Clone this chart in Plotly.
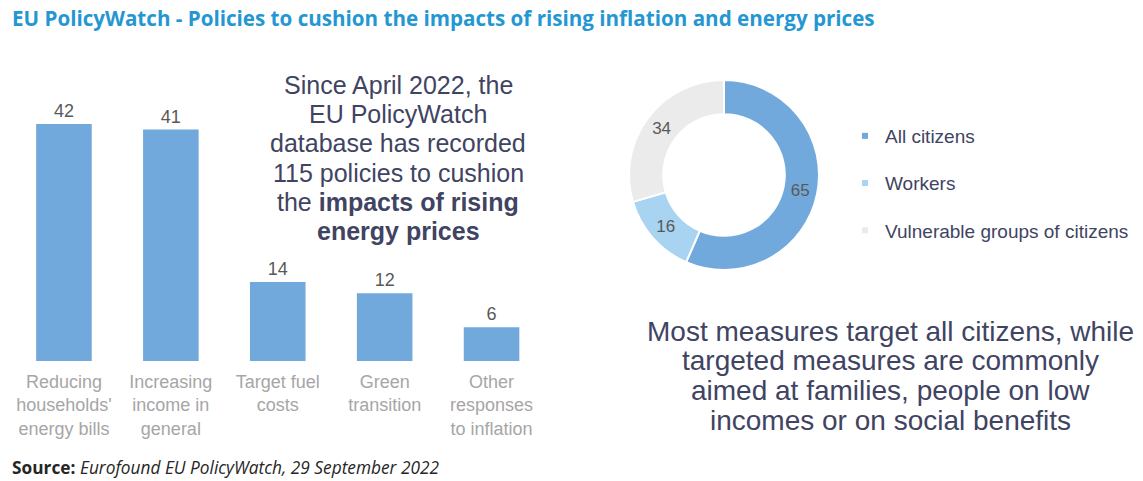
import plotly.graph_objects as go

# ---- data ----
bar_categories = ["Reducing<br>households'<br>energy bills", "Increasing<br>income in<br>general",
                  "Target fuel<br>costs", "Green<br>transition", "Other<br>responses<br>to inflation"]
bar_values = [42, 41, 14, 12, 6]

pie_labels = ["All citizens", "Workers", "Vulnerable groups of citizens"]
pie_values = [65, 16, 34]

title_text = "EU PolicyWatch - Policies to cushion the impacts of rising inflation and energy prices"
source_text = "<b>Source:</b> <i>Eurofound EU PolicyWatch, 29 September 2022</i>"
middle_lines = ["Since April 2022, the", "EU PolicyWatch", "database has recorded",
                "115 policies to cushion", "the <b>impacts of rising</b>", "<b>energy prices</b>"]
right_lines = ["Most measures target all citizens, while", "targeted measures are commonly",
               "aimed at families, people on low", "incomes or on social benefits"]

# ---- style ----
W, H = 1143, 481
BLUE = "#72a9dc"
LIGHTBLUE = "#a8d3f1"
GREY = "#ebebeb"
DARK = "#404462"
FONT = "Liberation Sans, Arial, sans-serif"

def px(x):
    return x / W

def py(y):
    return 1 - y / H

fig = go.Figure()

fig.add_trace(go.Bar(
    x=list(range(len(bar_values))), y=bar_values,
    marker=dict(color=BLUE, line=dict(width=0)),
    width=0.52,
    text=[str(v) for v in bar_values], textposition="outside",
    textfont=dict(family=FONT, size=18, color="#595959"),
    cliponaxis=False, showlegend=False, hoverinfo="skip",
))

fig.add_trace(go.Pie(
    labels=pie_labels, values=pie_values, sort=False, direction="clockwise", rotation=0,
    hole=0.64,
    marker=dict(colors=[BLUE, LIGHTBLUE, GREY], line=dict(color="white", width=2)),
    textinfo="value", textposition="inside", insidetextorientation="horizontal",
    textfont=dict(family=FONT, size=17, color="#595959"),
    domain=dict(x=[px(629), px(819)], y=[py(270), py(80)]),
    showlegend=False,
))

# legend proxies
for lab, col in zip(pie_labels, [BLUE, LIGHTBLUE, GREY]):
    fig.add_trace(go.Scatter(
        x=[None], y=[None], mode="markers", name=lab, legendgroup=lab,
        marker=dict(symbol="square", size=6, color=col),
    ))

fig.update_layout(
    width=W, height=H, autosize=False,
    margin=dict(l=0, r=0, t=0, b=0),
    paper_bgcolor="white", plot_bgcolor="white",
    xaxis=dict(domain=[px(10.5), px(545)], range=[-0.5, 4.5],
               tickmode="array", tickvals=list(range(len(bar_categories))), ticktext=bar_categories,
               tickfont=dict(family=FONT, size=18, color="#a6a6a6"),
               ticklabelstandoff=8,
               showgrid=False, zeroline=False, showline=False, ticks=""),
    yaxis=dict(domain=[py(361), py(107)], range=[0, 45], visible=False),
    legend=dict(x=px(845), y=py(117), xanchor="left", yanchor="top",
                font=dict(family=FONT, size=19, color=DARK),
                tracegroupgap=19.5, bgcolor="rgba(0,0,0,0)", itemclick=False),
    font=dict(family=FONT),
)

ann = []
ann.append(dict(text=title_text, x=px(10), y=py(18), xref="paper", yref="paper",
                xanchor="left", yanchor="middle", showarrow=False,
                font=dict(family="Open Sans, sans-serif", size=20.6, color="#2497d3", weight="bold")))
ann.append(dict(text=source_text, x=px(10), y=py(467), xref="paper", yref="paper",
                xanchor="left", yanchor="middle", showarrow=False,
                font=dict(family="Open Sans, sans-serif", size=17.3, color="#262626")))
for i, line in enumerate(middle_lines):
    ann.append(dict(text=line, x=px(398), y=py(85 + 29.2 * i), xref="paper", yref="paper",
                    xanchor="center", yanchor="middle", showarrow=False,
                    font=dict(family=FONT, size=25, color=DARK)))
for i, line in enumerate(right_lines):
    ann.append(dict(text=line, x=px(891), y=py(331 + 29.7 * i), xref="paper", yref="paper",
                    xanchor="center", yanchor="middle", showarrow=False,
                    font=dict(family=FONT, size=28, color=DARK)))
fig.update_layout(annotations=ann)

fig.write_html("out.html", config={"displayModeBar": False},
               post_script="document.body.style.margin='0';")
